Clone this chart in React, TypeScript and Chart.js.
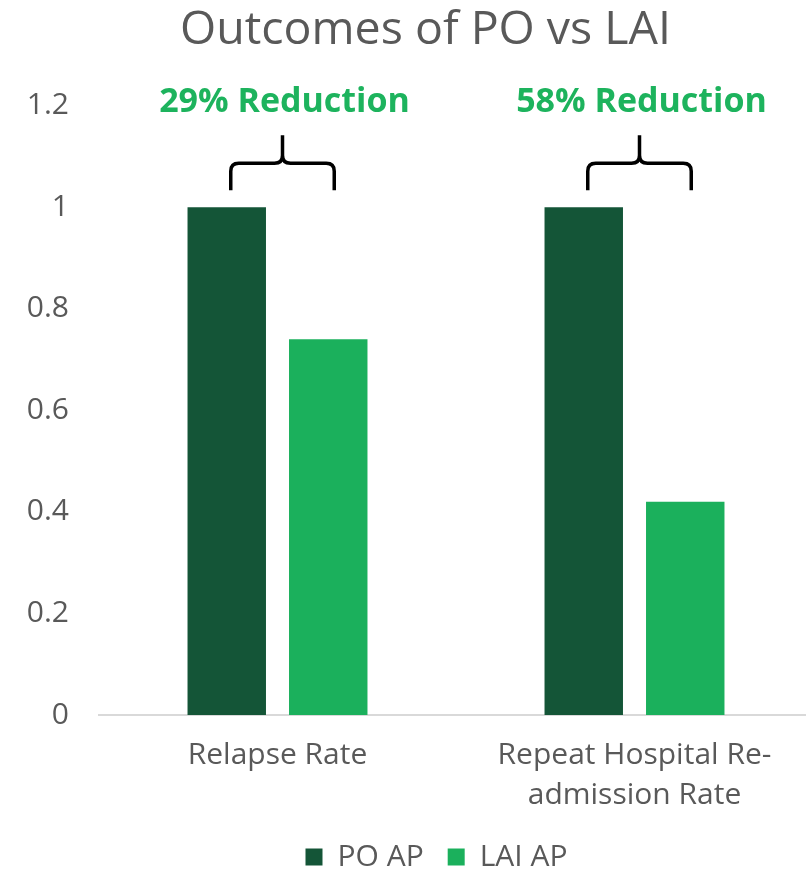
import React, { useEffect, useRef } from "react";
import { Chart, registerables } from "chart.js";

Chart.register(...registerables);

const categories: (string | string[])[] = ["Relapse Rate", ["Repeat Hospital Re-", "admission Rate"]];
const poValues = [1, 1];
const laiValues = [0.74, 0.42];
const reductionLabels = ["29% Reduction", "58% Reduction"];
const seriesNames = ["PO AP", "LAI AP"];

const FONT = "'Open Sans', 'DejaVu Sans', sans-serif";
const GRAY = "#595959";
const DARK = "#145537";
const BRIGHT = "#1BB05C";
const ANNOT = "#1DB35D";

const shiftPlugin = {
  id: "shiftBlocks",
  afterLayout(chart: any) {
    if (chart.titleBlock) chart.titleBlock.left += 38;
    if (chart.legend) chart.legend.left += 60;
  },
};

const bracePlugin = {
  id: "braces",
  afterDatasetsDraw(chart: any) {
    const ctx = chart.ctx;
    const y = chart.scales.y;
    const m0 = chart.getDatasetMeta(0);
    const m1 = chart.getDatasetMeta(1);
    const yOne = y.getPixelForValue(1);
    reductionLabels.forEach((label, i) => {
      const xl = m0.data[i].x + 4;
      const xr = m1.data[i].x + 6;
      const xc = (xl + xr) / 2;
      const yBottom = yOne - 17;
      const yMid = yOne - 44;
      const yTip = yOne - 72;
      const r = 8;
      ctx.save();
      ctx.strokeStyle = "#000";
      ctx.lineWidth = 3.5;
      ctx.lineJoin = "round";
      ctx.beginPath();
      ctx.moveTo(xl, yBottom);
      ctx.lineTo(xl, yMid + r);
      ctx.quadraticCurveTo(xl, yMid, xl + r, yMid);
      ctx.lineTo(xc - r, yMid);
      ctx.quadraticCurveTo(xc, yMid, xc, yMid - r);
      ctx.lineTo(xc, yTip);
      ctx.moveTo(xc, yMid - r);
      ctx.quadraticCurveTo(xc, yMid, xc + r, yMid);
      ctx.lineTo(xr - r, yMid);
      ctx.quadraticCurveTo(xr, yMid, xr, yMid + r);
      ctx.lineTo(xr, yBottom);
      ctx.stroke();
      ctx.fillStyle = ANNOT;
      ctx.font = `bold 34px ${FONT}`;
      ctx.textAlign = "center";
      ctx.textBaseline = "middle";
      ctx.fillText(label, xc + 2, yOne - 105);
      ctx.restore();
    });
  },
};

export default function App() {
  const ref = useRef<HTMLCanvasElement>(null);
  useEffect(() => {
    document.body.style.margin = "0";
    const chart = new Chart(ref.current!, {
      type: "bar",
      data: {
        labels: categories,
        datasets: [
          { label: seriesNames[0], data: poValues, backgroundColor: DARK, categoryPercentage: 0.5686, barPercentage: 0.773 },
          { label: seriesNames[1], data: laiValues, backgroundColor: BRIGHT, categoryPercentage: 0.5686, barPercentage: 0.773 },
        ],
      },
      options: {
        responsive: false,
        animation: false,
        layout: { padding: { top: 0, right: 0, bottom: 0, left: 0 } },
        plugins: {
          title: {
            display: true,
            text: "Outcomes of PO vs LAI",
            color: GRAY,
            font: { family: FONT, size: 46.5, weight: "normal", lineHeight: 1.2 },
            padding: { top: 3, bottom: 47 },
          },
          legend: {
            position: "bottom",
            labels: {
              color: GRAY,
              font: { family: FONT, size: 30 },
              boxWidth: 17,
              boxHeight: 17,
              padding: 24,
            },
          },
          tooltip: { enabled: false },
        },
        scales: {
          x: {
            grid: { display: false, drawTicks: false },
            border: { display: true, color: "#D9D9D9", width: 2 },
            ticks: { color: GRAY, font: { family: FONT, size: 30, lineHeight: 1.333 }, padding: 20, maxRotation: 0 },
            afterFit: (s: any) => { s.height = 103; },
          },
          y: {
            min: 0,
            max: 1.2,
            grid: { display: false, drawTicks: false },
            border: { display: false },
            ticks: {
              stepSize: 0.2,
              color: GRAY,
              font: { family: FONT, size: 30 },
              padding: 30,
              callback: (v: any) => String(Math.round(Number(v) * 10) / 10),
            },
            afterFit: (s: any) => { s.width = 99; },
          },
        },
      },
      plugins: [shiftPlugin, bracePlugin],
    });
    return () => chart.destroy();
  }, []);
  return (
    <div style={{ width: 806, height: 869, overflow: "hidden" }}>
      <canvas ref={ref} width={813} height={882} style={{ display: "block" }} />
    </div>
  );
}
